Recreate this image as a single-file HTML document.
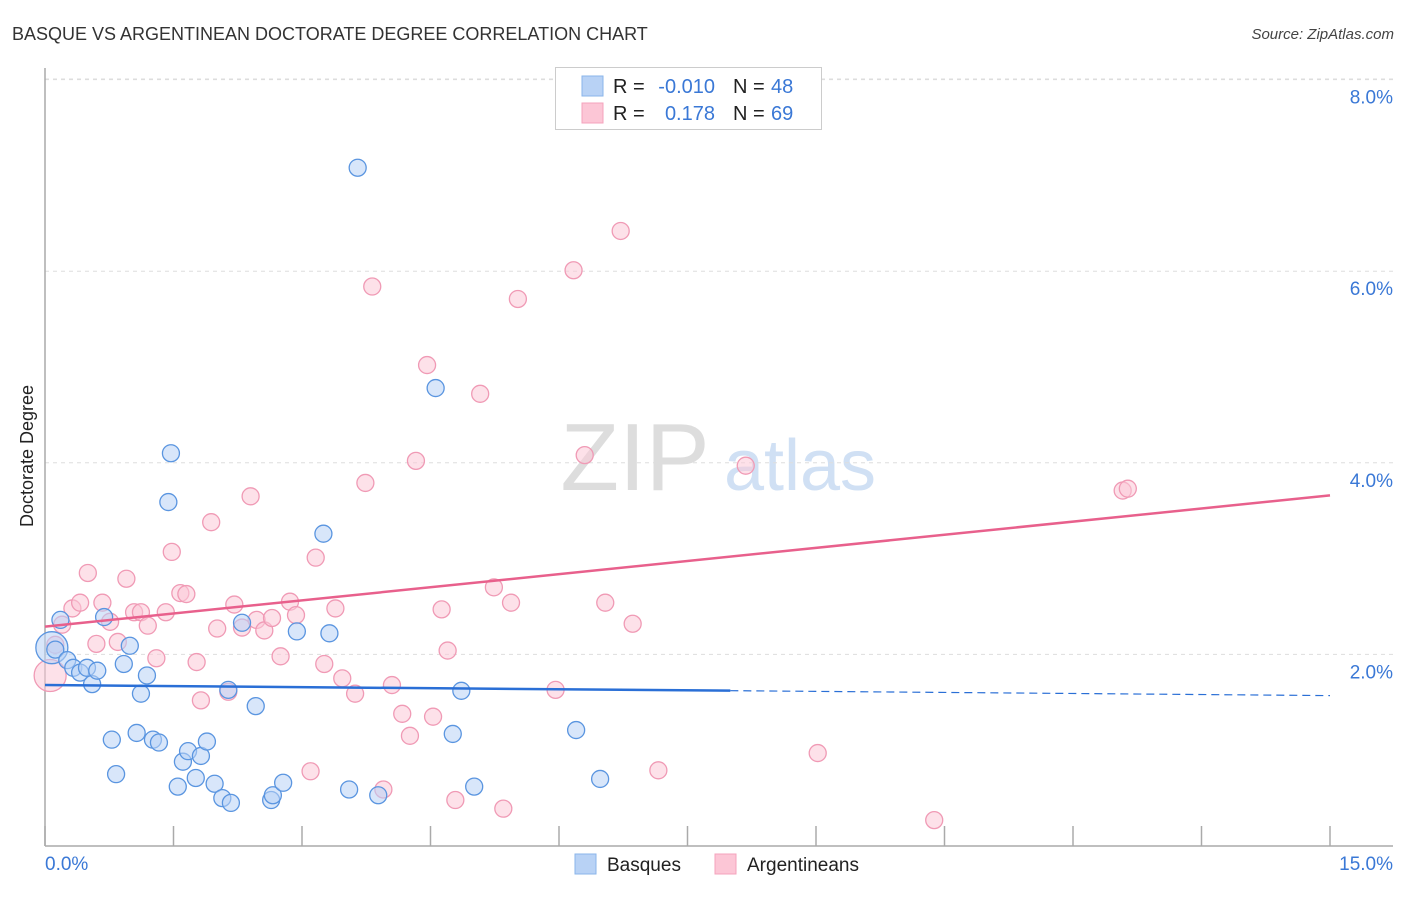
<!DOCTYPE html>
<html><head><meta charset="utf-8"><style>
body{margin:0;background:#fff;font-family:"Liberation Sans",sans-serif}
svg text{font-family:"Liberation Sans",sans-serif}
</style></head><body>
<svg id="chart" width="1406" height="892" xmlns="http://www.w3.org/2000/svg">
<text x="12" y="40" font-size="18" fill="#333">BASQUE VS ARGENTINEAN DOCTORATE DEGREE CORRELATION CHART</text>
<text x="1394" y="39" font-size="15" fill="#444" text-anchor="end" font-style="italic">Source: ZipAtlas.com</text>
<text transform="translate(33,456) rotate(-90)" font-size="18" fill="#222" text-anchor="middle">Doctorate Degree</text>
<g>
<text x="635" y="490" font-size="96" fill="#ddd" text-anchor="middle" font-family="Liberation Serif">ZIP</text>
<text x="800" y="490" font-size="72" fill="#d0e0f4" text-anchor="middle">atlas</text>
</g>
<g id="grid"></g><g id="axes"></g><g id="pts"></g><g id="lines"></g>
<g>
<rect x="555.5" y="67.5" width="266" height="62" fill="#fff" stroke="#ccc"/>
<rect x="582" y="76" width="21" height="20" fill="#b8d2f5" stroke="#8ab4ea"/>
<rect x="582" y="103" width="21" height="20" fill="#fcc6d6" stroke="#f4a3bc"/>
<text x="613" y="93" font-size="20" fill="#222">R = </text><text x="715" y="93" font-size="20" fill="#3a78d6" text-anchor="end">-0.010</text>
<text x="733" y="93" font-size="20" fill="#222">N = </text><text x="771" y="93" font-size="20" fill="#3a78d6">48</text>
<text x="613" y="120" font-size="20" fill="#222">R = </text><text x="715" y="120" font-size="20" fill="#3a78d6" text-anchor="end">0.178</text>
<text x="733" y="120" font-size="20" fill="#222">N = </text><text x="771" y="120" font-size="20" fill="#3a78d6">69</text>
</g>
<g>
<rect x="575" y="854" width="21" height="20" fill="#b8d2f5" stroke="#8ab4ea"/>
<text x="607" y="871" font-size="19" fill="#222">Basques</text>
<rect x="715" y="854" width="21" height="20" fill="#fcc6d6" stroke="#f4a3bc"/>
<text x="747" y="871" font-size="19" fill="#222">Argentineans</text>
</g>
</svg>
<script>
const xTicks=[0,1.5,3,4.5,6,7.5,9,10.5,12,13.5,15];
const yTicks=[2,4,6,8];
const yTickLabels=["2.0%","4.0%","6.0%","8.0%"];
const xEndLabels=["0.0%","15.0%"];
const blueX=[0.08,0.12,0.18,0.26,0.33,0.41,0.49,0.55,0.61,0.69,0.78,0.83,0.92,0.99,1.07,1.12,1.19,1.26,1.33,1.44,1.47,1.55,1.61,1.67,1.76,1.82,1.89,1.98,2.07,2.14,2.17,2.30,2.46,2.64,2.66,2.78,2.94,3.25,3.32,3.55,3.65,3.89,4.56,4.76,4.86,5.01,6.20,6.48];
const blueY=[2.07,2.05,2.36,1.94,1.86,1.81,1.86,1.69,1.83,2.39,1.11,0.75,1.90,2.09,1.18,1.59,1.78,1.11,1.08,3.59,4.10,0.62,0.88,0.99,0.71,0.94,1.09,0.65,0.50,1.63,0.45,2.33,1.46,0.48,0.53,0.66,2.24,3.26,2.22,0.59,7.08,0.53,4.78,1.17,1.62,0.62,1.21,0.70];
const pinkX=[0.06,0.12,0.20,0.32,0.41,0.50,0.60,0.67,0.76,0.85,0.95,1.04,1.12,1.20,1.30,1.41,1.48,1.58,1.65,1.77,1.82,1.94,2.01,2.14,2.21,2.30,2.40,2.47,2.56,2.65,2.75,2.86,2.93,3.16,3.26,3.39,3.47,3.62,3.74,3.82,4.05,4.17,4.26,4.33,4.46,4.53,4.63,4.70,4.79,5.08,5.24,5.35,5.44,5.52,5.96,6.09,6.17,6.30,6.54,6.72,6.86,7.16,8.18,9.02,10.38,12.58,12.64,3.10,3.95];
const pinkY=[1.78,2.10,2.31,2.48,2.54,2.85,2.11,2.54,2.34,2.13,2.79,2.44,2.44,2.30,1.96,2.44,3.07,2.64,2.63,1.92,1.52,3.38,2.27,1.61,2.52,2.28,3.65,2.36,2.25,2.38,1.98,2.55,2.41,3.01,1.90,2.48,1.75,1.59,3.79,5.84,1.68,1.38,1.15,4.02,5.02,1.35,2.47,2.04,0.48,4.72,2.70,0.39,2.54,5.71,1.63,7.71,6.01,4.08,2.54,6.42,2.32,0.79,3.97,0.97,0.27,3.71,3.73,0.78,0.59];
const blueTrend=[1.68,1.57];
const pinkTrend=[2.29,3.66];
const sx=v=>45+v*(1285/15);
const sy=v=>846-v*95.8;
const NS="http://www.w3.org/2000/svg";
function mk(tag,attrs,parent){const e=document.createElementNS(NS,tag);for(const k in attrs)e.setAttribute(k,attrs[k]);document.getElementById(parent).appendChild(e);return e;}
yTicks.forEach((t,i)=>{
 const g=mk('line',{x1:45,x2:1393,y1:sy(t),y2:sy(t),stroke:'#ddd','stroke-dasharray':'4,4'},'grid');
 
 
 const l=mk('text',{x:1393,y:sy(t)+24,'font-size':19,fill:'#3a78d6','text-anchor':'end'},'grid');
 
 
 l.textContent=yTickLabels[i];
});
const topGrid=mk('line',{x1:45,x2:1393,y1:79,y2:79,stroke:'#ddd','stroke-dasharray':'4,4'},'grid');


const ya=mk('line',{x1:45,x2:45,y1:68,y2:846,stroke:'#aaa','stroke-width':1.5},'axes');


const xa=mk('line',{x1:45,x2:1393,y1:846,y2:846,stroke:'#aaa','stroke-width':1.5},'axes');


xTicks.forEach(t=>{
 const tk=mk('line',{x1:sx(t),x2:sx(t),y1:826,y2:846,stroke:'#aaa','stroke-width':1.5},'axes');
 
 
});
[[0,'start',45],[15,'end',1393]].forEach((a,i)=>{
 const l=mk('text',{x:a[2],y:870,'font-size':19,fill:'#3a78d6','text-anchor':a[1]},'axes');
 
 
 l.textContent=xEndLabels[i];
});
function dots(X,Y,fill,stroke,name){X.forEach((x,i)=>{
 const big=(i===0);
 const c=mk('circle',{cx:sx(x),cy:sy(Y[i]),r:big?16:8.5,fill:fill,'fill-opacity':0.55,stroke:stroke,'stroke-width':1.3},'pts');
 
 
});}
dots(pinkX,pinkY,'#fbc8d7','#f09ab5','argentinean-point');
dots(blueX,blueY,'#b8d2f5','#5a95e0','basque-point');
const bs=blueTrend[0]+(blueTrend[1]-blueTrend[0])*(8/15);
const b1=mk('line',{x1:sx(0),y1:sy(blueTrend[0]),x2:sx(8),y2:sy(bs),stroke:'#2a6fd6','stroke-width':2.5},'lines');


const b2=mk('line',{x1:sx(8),y1:sy(bs),x2:sx(15),y2:sy(blueTrend[1]),stroke:'#2a6fd6','stroke-width':1.2,'stroke-dasharray':'8,5'},'lines');


const p1=mk('line',{x1:sx(0),y1:sy(pinkTrend[0]),x2:sx(15),y2:sy(pinkTrend[1]),stroke:'#e8608c','stroke-width':2.5},'lines');


</script>
</body></html>
